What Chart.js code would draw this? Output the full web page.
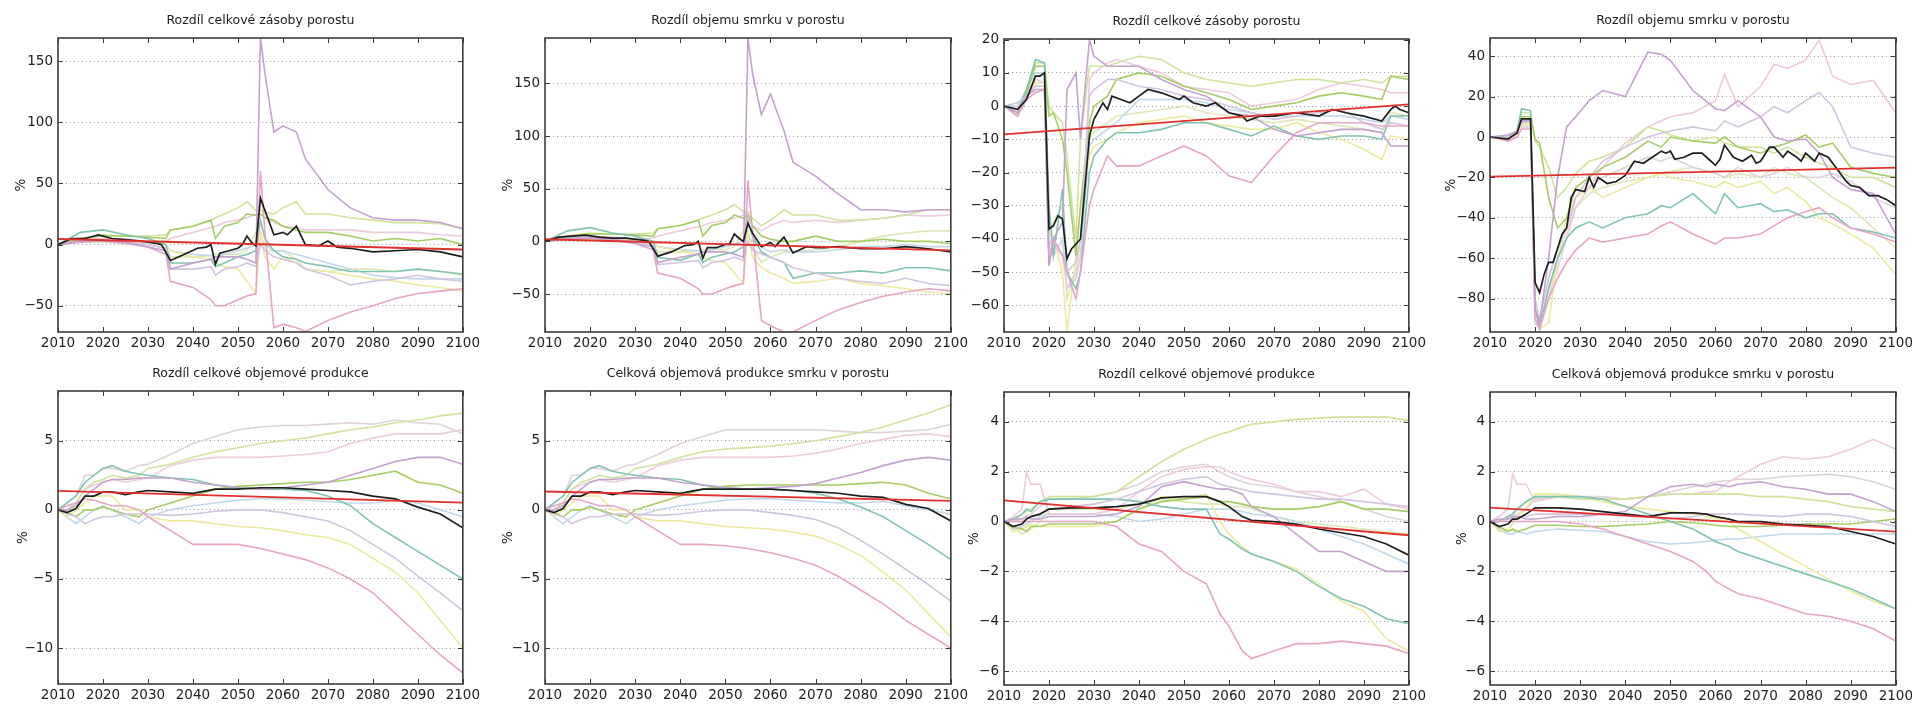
<!DOCTYPE html>
<html>
<head>
<meta charset="utf-8">
<script src="https://cdn.jsdelivr.net/npm/chart.js@4"></script>
<style>
  html, body { margin: 0; padding: 0; background: #fff; overflow: hidden; }
  .panel { position: absolute; }
</style>
</head>
<body>
<script>
// ---- data: years per panel ----
const years12 = [2010, 2015, 2020, 2025, 2030, 2034, 2035, 2040, 2044, 2045, 2047, 2050, 2052, 2054, 2055, 2056, 2058, 2060, 2063, 2065, 2070, 2075, 2080, 2085, 2090, 2095, 2100];
const blackYears12 = [2010, 2013, 2016, 2019, 2022, 2025, 2028, 2032, 2033, 2035, 2038, 2041, 2043, 2044, 2045, 2046, 2048, 2050, 2051, 2052, 2053, 2054, 2055, 2056, 2058, 2060, 2061, 2063, 2065, 2068, 2070, 2072, 2075, 2080, 2085, 2090, 2095, 2100];
const years3 = [2010, 2013, 2015, 2017, 2019, 2020, 2021, 2023, 2024, 2026, 2027, 2029, 2030, 2033, 2035, 2040, 2045, 2050, 2055, 2060, 2065, 2070, 2075, 2080, 2085, 2090, 2094, 2096, 2100];
const blackYears3 = [2010, 2013, 2015, 2017, 2018, 2019, 2020, 2021, 2022, 2023, 2024, 2025, 2027, 2029, 2030, 2032, 2033, 2034, 2036, 2038, 2040, 2042, 2045, 2049, 2050, 2052, 2055, 2057, 2060, 2063, 2064, 2067, 2070, 2075, 2080, 2083, 2086, 2090, 2094, 2096, 2097, 2098, 2100];
const years4 = [2010, 2014, 2016, 2017, 2019, 2020, 2021, 2023, 2025, 2027, 2029, 2032, 2035, 2040, 2045, 2048, 2050, 2055, 2060, 2062, 2065, 2070, 2073, 2076, 2080, 2083, 2086, 2090, 2095, 2100];
const blackYears4 = [2010, 2014, 2016, 2017, 2019, 2020, 2021, 2022, 2023, 2024, 2025, 2026, 2027, 2028, 2029, 2031, 2032, 2033, 2034, 2036, 2038, 2040, 2042, 2044, 2046, 2048, 2049, 2050, 2051, 2053, 2055, 2057, 2059, 2060, 2061, 2062, 2064, 2066, 2068, 2069, 2070, 2072, 2073, 2075, 2076, 2078, 2079, 2080, 2082, 2083, 2085, 2087, 2089, 2090, 2092, 2094, 2096, 2098, 2100];
const years56 = [2010, 2012, 2014, 2016, 2018, 2020, 2022, 2025, 2028, 2030, 2035, 2040, 2045, 2050, 2055, 2060, 2065, 2070, 2075, 2080, 2085, 2090, 2095, 2100];
const years78 = [2010, 2012, 2014, 2015, 2016, 2018, 2020, 2025, 2030, 2035, 2040, 2045, 2050, 2055, 2058, 2060, 2063, 2065, 2070, 2075, 2080, 2085, 2090, 2095, 2100];

// ---- panel 1: Rozdíl celkové zásoby porostu ----
const p1Purple = [0, 3, 3, 2, -2, -5, -20, -15, -12, -10, -10, -10, -12, -15, 169, 140, 92, 97, 92, 70, 45, 30, 22, 20, 20, 18, 13];
const p1Pink = [0, 2, 3, 1, -2, -8, -30, -35, -45, -50, -50, -45, -42, -40, 60, 10, -68, -65, -68, -71, -62, -55, -50, -44, -40, -38, -36];
const p1Lavender = [0, 3, 4, 2, 0, -3, -20, -20, -18, -25, -20, -18, -15, -18, 0, -5, -10, -12, -15, -20, -25, -33, -30, -28, -25, -28, -30];
const p1Teal = [0, 10, 12, 8, 5, 0, -15, -15, -12, -18, -15, -10, -8, -5, 20, 5, -5, -10, -12, -15, -18, -22, -22, -22, -20, -22, -24];
const p1Green = [0, 5, 7, 7, 6, 5, 12, 15, 20, 5, 15, 18, 25, 24, 25, 22, 20, 15, 12, 10, 10, 7, 3, 5, 3, 5, 0];
const p1LtGreen = [0, 5, 8, 7, 7, 8, 12, 15, 20, 22, 25, 30, 35, 28, 28, 26, 25, 30, 35, 25, 25, 22, 20, 18, 18, 17, 13];
const p1LtPink = [0, 4, 5, 4, 2, 3, 5, 10, 14, 15, 18, 20, 22, 25, 25, 22, 18, 15, 14, 12, 12, 12, 10, 10, 10, 8, 7];
const p1Yellow = [0, 3, 3, 2, 2, 0, -5, -10, -12, -15, -18, -20, -30, -40, 10, -10, -20, -10, -15, -20, -22, -25, -28, -30, -33, -35, -38];
const p1LtBlue = [0, 4, 4, 3, 2, 0, -5, -8, -9, -10, -8, -5, -3, 0, 5, 0, -5, -5, -8, -10, -15, -20, -25, -27, -28, -28, -28];
const p1Pale = [0, 2, 2, 1, 0, -3, -10, -10, -9, -8, -8, -8, -5, 10, 10, -5, -5, -5, -12, -20, -22, -20, -20, -22, -20, -22, -25];
const p1Black = [0, 5, 5, 8, 5, 4, 3, 1, 0, -13, -8, -3, -2, 0, -16, -7, -5, -3, 0, 7, 2, -1, 38, 28, 8, 10, 8, 15, 0, -1, 3, -2, -3, -6, -5, -4, -6, -10];
const p1Trend = [4.6, -4];

// ---- panel 2: Rozdíl objemu smrku v porostu ----
const p2Purple = [0, 3, 3, 2, -2, -5, -20, -15, -12, -10, -10, -10, -12, -15, 193, 160, 120, 140, 105, 75, 62, 45, 30, 30, 28, 30, 30];
const p2Pink = [0, 2, 3, 1, -2, -8, -30, -35, -45, -50, -50, -45, -42, -40, 58, 10, -75, -80, -86, -86, -75, -65, -58, -52, -48, -45, -47];
const p2Lavender = [0, 3, 4, 2, 0, -3, -22, -20, -18, -25, -20, -18, -15, -18, 0, -8, -12, -15, -20, -25, -30, -35, -38, -40, -35, -40, -42];
const p2Teal = [0, 10, 13, 8, 5, 0, -15, -18, -12, -20, -15, -12, -10, -5, 20, 5, -10, -15, -20, -35, -30, -30, -28, -30, -25, -25, -28];
const p2Green = [0, 5, 7, 7, 6, 5, 12, 15, 20, 5, 15, 18, 25, 22, 25, 15, 5, 2, 0, 0, 5, 0, 0, 2, 0, 0, -2];
const p2LtGreen = [0, 5, 8, 7, 7, 8, 12, 15, 20, 22, 25, 30, 35, 28, 28, 22, 15, 20, 30, 25, 25, 20, 20, 22, 25, 30, 30];
const p2LtPink = [0, 4, 5, 4, 2, 3, 5, 10, 14, 15, 18, 20, 22, 25, 25, 15, 10, 15, 20, 18, 20, 18, 20, 22, 25, 24, 25];
const p2Yellow = [0, 3, 3, 2, 2, 0, -5, -10, -12, -15, -18, -20, -30, -40, 10, -15, -25, -30, -35, -40, -38, -35, -40, -42, -45, -48, -50];
const p2LtBlue = [0, 4, 4, 3, 2, 0, -5, -8, -9, -10, -8, -5, -3, 0, 5, 0, -5, -10, -8, -10, -10, -8, -5, -5, -3, -5, -5];
const p2Pale = [0, 2, 2, 1, 0, -3, -10, -10, -9, -8, -8, -8, -5, 10, 10, -5, -20, -15, -10, -10, -8, -5, 0, 5, 8, 10, 10];
const p2Black = [0, 4, 5, 6, 4, 3, 3, 1, 0, -14, -10, -4, -3, 0, -16, -6, -6, -3, -2, 7, 3, 0, 17, 8, -5, -1, -5, 4, -11, -5, -6, -6, -5, -7, -7, -5, -7, -10];
const p2Trend = [2, -8.5];

// ---- panel 3: Rozdíl celkové zásoby porostu ----
const p3Teal = [0, -2, 5, 14, 13, -30, -45, -25, -50, -55, -50, -20, -15, -10, -8, -8, -7, -5, -5, -7, -9, -6, -9, -10, -9, -9, -10, -3, -3];
const p3Green = [0, -3, 4, 12, 12, -3, -2, -10, -20, -45, -30, -5, 0, 3, 8, 10, 9, 6, 4, 2, -1, 0, 1, 3, 4, 3, 2, 9, 8];
const p3LtGreen = [0, -2, 5, 13, 13, 0, -2, -5, -15, -40, -10, 12, 12, 12, 13, 15, 14, 10, 8, 7, 6, 7, 8, 8, 7, 8, 7, 9, 9];
const p3Purple = [0, -2, 3, 5, 5, -48, -40, -35, 5, 10, -10, 20, 15, 12, 12, 12, 8, 5, 3, -2, -3, -7, -9, -8, -7, -7, -8, -12, -12];
const p3Pink = [0, -3, 2, 4, 5, -48, -40, -45, -50, -58, -50, -30, -25, -15, -18, -18, -15, -12, -15, -21, -23, -15, -8, -5, -5, -5, -6, -6, -6];
const p3Yellow = [0, -3, 3, 7, 7, -35, -40, -50, -68, -45, -30, -15, -12, -10, -8, -5, -4, -3, -5, -6, -7, -7, -5, -8, -10, -13, -16, -9, -10];
const p3LtPink = [0, -1, 4, 8, 7, -40, -42, -45, -55, -50, -45, 8, 10, 13, 14, 12, 10, 6, 5, 4, 0, 1, 2, 5, 7, 6, 5, 4, 4];
const p3Lavender = [0, 1, 3, 6, 6, -42, -40, -45, -50, -47, -40, 3, 5, 8, 8, 6, 5, 3, 2, 0, -2, -4, -3, -2, -1, -5, -7, -5, -6];
const p3LtBlue = [0, 0, 5, 10, 10, -42, -45, -40, -55, -52, -45, -12, -10, -7, -5, 2, 2, 2, 1, -1, -2, -3, -3, -3, -3, -4, -5, -3, -4];
const p3Pale = [0, -1, 3, 9, 10, -40, -35, -30, -58, -50, -40, -10, -8, -5, -3, -2, -1, 0, -2, -3, -4, -5, -4, -5, -6, -7, -8, -2, -3];
const p3Black = [0, -1, 2, 9, 9, 10, -37, -36, -33, -34, -46, -43, -40, -9, -4, 1, -1, 3, 2, 1, 3, 5, 4, 2, 3, 1, 0, 1, -2, -3, -4.5, -3, -3, -2, -3, -1, -2, -3, -4.5, -1, 0, -1, -2];
const p3Trend = [-8.5, 0.5];

// ---- panel 4: Rozdíl objemu smrku v porostu ----
const p4Purple = [0, 1, 3, 8, 8, -85, -92, -60, -20, 5, 10, 18, 23, 20, 42, 41, 38, 23, 14, 13, 18, 10, 0, -2, -1, -8, -20, -26, -28, -48];
const p4LtPink = [0, 0, 2, 8, 9, -85, -92, -75, -60, -50, -35, -25, -15, -3, 5, 8, 10, 12, 18, 31, 15, 25, 36, 34, 38, 48, 30, 26, 28, 12];
const p4Lavender = [0, 0, 2, 7, 8, -80, -90, -70, -55, -45, -30, -20, -12, -5, 0, 2, 3, 5, 3, 8, 5, 10, 15, 12, 18, 22, 15, -5, -8, -10];
const p4Green = [0, 0, 2, 10, 10, -1, -3, -30, -45, -40, -25, -20, -15, -10, -2, -5, 0, -2, -3, 0, -5, -8, -5, -3, 1, -5, -3, -15, -18, -20];
const p4LtGreen = [0, 0, 3, 12, 12, -2, -5, -15, -30, -25, -18, -12, -10, -5, 5, 3, 1, -2, 0, -3, -5, -5, -8, -5, -10, -13, -15, -20, -20, -25];
const p4Pink2 = [0, -1, 1, 5, 5, -92, -95, -80, -65, -50, -30, -25, -20, -15, -10, -12, -10, -15, -18, -20, -15, -20, -18, -15, -20, -20, -18, -22, -30, -35];
const p4Yellow = [0, -2, 1, 6, 6, -90, -95, -92, -60, -40, -30, -25, -30, -25, -20, -18, -20, -22, -25, -22, -25, -22, -28, -25, -32, -40, -43, -48, -55, -68];
const p4Pale = [0, -1, 2, 7, 7, -85, -90, -80, -60, -45, -35, -28, -25, -22, -20, -18, -17, -15, -18, -20, -18, -20, -15, -18, -20, -25, -30, -35, -45, -55];
const p4Teal = [0, 0, 3, 14, 13, -85, -95, -75, -60, -50, -45, -42, -45, -40, -38, -34, -35, -28, -38, -28, -35, -33, -37, -36, -40, -38, -38, -45, -47, -50];
const p4Pink = [0, -2, 0, 4, 4, -90, -95, -80, -70, -62, -56, -50, -52, -50, -48, -44, -42, -48, -53, -50, -50, -48, -44, -40, -37, -35, -40, -45, -48, -52];
const p4Black = [0, -1, 2, 9, 9, -72, -77, -68, -62, -62, -55, -48, -45, -30, -26, -27, -20, -25, -20, -23, -22, -19, -12, -13, -10, -7, -8, -7, -11, -10, -8, -8, -12, -14, -11, -4, -10, -12, -9, -13, -12, -5, -5, -10, -7, -10, -12, -8, -12, -8, -10, -16, -22, -24, -25, -29, -29, -31, -34];
const p4Trend = [-19.6, -15.2];

// ---- panel 5: Rozdíl celkové objemové produkce ----
const p5LtGreen = [0, 0, 0.5, 1.5, 2, 2.2, 2.5, 2.3, 2.5, 3, 3.3, 3.8, 4.2, 4.5, 4.8, 5, 5.2, 5.5, 5.8, 6, 6.3, 6.5, 6.8, 7];
const p5Gray = [0, 0.5, 1, 2.5, 2.5, 3, 3, 2.8, 3.2, 3.3, 4, 4.8, 5.3, 5.8, 6, 6.1, 6.1, 6.2, 6.3, 6.2, 6.5, 6.3, 6.2, 5.5];
const p5LtPink = [0, 0, 0.5, 1.5, 1.8, 2, 2.2, 2, 2.2, 2.3, 3.2, 3.6, 3.8, 3.8, 3.8, 3.9, 4, 4.2, 4.8, 5.2, 5.5, 5.5, 5.5, 5.8];
const p5Purple = [0, 0, 0.3, 1, 1.5, 2, 2.2, 2.2, 2.3, 2.3, 2.3, 2.0, 1.8, 1.6, 1.5, 1.6, 1.8, 2.0, 2.5, 3.0, 3.5, 3.8, 3.8, 3.3];
const p5Green = [0, -0.2, -0.5, 0, 0, 0.2, 0, -0.3, -0.5, 0, 0.5, 1, 1.5, 1.7, 1.8, 1.9, 2, 2, 2.2, 2.5, 2.8, 2, 1.8, 1.2];
const p5Teal = [0, 0.5, 1, 2, 2.5, 3, 3.2, 2.8, 2.6, 2.5, 2.3, 2.2, 1.8, 1.6, 1.5, 1.5, 1.4, 1.0, 0.3, -1, -2, -3, -4, -5];
const p5Purple2 = [0, -0.3, -0.5, -1, -0.7, -0.5, -0.5, -0.3, -0.3, -0.3, -0.4, -0.3, -0.1, 0, 0, -0.2, -0.5, -0.8, -1.5, -2.5, -3.5, -4.8, -6, -7.3];
const p5Yellow = [0, -0.5, 0, 0.5, 1, 1, 1, 0, 0, -0.5, -0.8, -0.8, -1, -1.2, -1.3, -1.5, -1.8, -2, -2.5, -3.5, -4.5, -6, -8, -10];
const p5Pink = [0, 0.3, 0.5, 0.8, 0.7, 0.5, 0.3, 0.3, 0, -0.5, -1.5, -2.5, -2.5, -2.5, -2.8, -3.2, -3.6, -4.2, -5, -6, -7.5, -9, -10.5, -11.8];
const p5LtBlue = [0, -0.5, -1, -0.5, 0, 0.3, 0, -0.5, -1, -0.5, 0, 0.3, 0.5, 0.7, 0.8, 0.8, 0.7, 0.6, 0.5, 0.5, 0.7, 0.5, 0, -0.5];
const p5Black = [0, -0.2, 0.1, 1.0, 1.0, 1.3, 1.3, 1.1, 1.3, 1.4, 1.3, 1.2, 1.5, 1.5, 1.6, 1.6, 1.5, 1.4, 1.3, 1.0, 0.8, 0.2, -0.3, -1.3];
const p5Trend = [1.37, 0.53];

// ---- panel 6: Celková objemová produkce smrku v porostu ----
const p6LtGreen = [0, 0, 0.5, 1.5, 2, 2.2, 2.5, 2.3, 2.5, 3, 3.3, 3.8, 4.2, 4.4, 4.5, 4.6, 4.8, 5, 5.3, 5.6, 6.0, 6.5, 7.0, 7.6];
const p6Gray = [0, 0.5, 1, 2.5, 2.5, 3, 3, 2.8, 3.2, 3.3, 4, 4.8, 5.3, 5.8, 5.8, 5.8, 5.8, 5.8, 5.7, 5.6, 5.6, 5.7, 5.8, 6.2];
const p6LtPink = [0, 0, 0.5, 1.5, 1.8, 2, 2.2, 2, 2.2, 2.3, 3.2, 3.6, 3.8, 3.8, 3.8, 3.8, 3.9, 4.1, 4.4, 4.8, 5.1, 5.4, 5.5, 5.3];
const p6Purple = [0, 0, 0.3, 1, 1.5, 2, 2.2, 2.2, 2.3, 2.3, 2.3, 2.0, 1.8, 1.6, 1.5, 1.6, 1.7, 1.9, 2.3, 2.7, 3.2, 3.6, 3.8, 3.6];
const p6Green = [0, -0.2, -0.5, 0, 0, 0.2, 0, -0.3, -0.5, 0, 0.5, 1, 1.5, 1.7, 1.8, 1.8, 1.8, 1.8, 1.8, 1.9, 2.0, 1.8, 1.2, 0.8];
const p6Teal = [0, 0.5, 1, 2, 2.5, 3, 3.2, 2.8, 2.6, 2.5, 2.3, 2.2, 1.8, 1.6, 1.5, 1.5, 1.4, 1.2, 0.8, 0.2, -0.5, -1.5, -2.5, -3.6];
const p6Purple2 = [0, -0.3, -0.5, -1, -0.7, -0.5, -0.5, -0.3, -0.3, -0.3, -0.4, -0.3, -0.1, 0, 0, -0.2, -0.4, -0.7, -1.3, -2.2, -3.2, -4.3, -5.4, -6.6];
const p6Yellow = [0, -0.5, 0, 0.5, 1, 1, 1, 0, 0, -0.5, -0.8, -0.8, -1, -1.2, -1.3, -1.4, -1.6, -1.9, -2.5, -3.3, -4.5, -5.8, -7.5, -9.2];
const p6Pink = [0, 0.3, 0.5, 0.8, 0.7, 0.5, 0.3, 0.3, 0, -0.5, -1.5, -2.5, -2.5, -2.6, -2.8, -3.1, -3.5, -4.0, -4.8, -5.8, -6.8, -8.0, -9.0, -10.0];
const p6LtBlue = [0, -0.5, -1, -0.5, 0, 0.3, 0, -0.5, -1, -0.5, 0, 0.3, 0.5, 0.7, 0.8, 0.8, 0.7, 0.6, 0.5, 0.5, 0.6, 0.3, 0, -0.3];
const p6Black = [0, -0.2, 0.1, 1.0, 1.0, 1.3, 1.3, 1.1, 1.3, 1.4, 1.3, 1.2, 1.5, 1.5, 1.5, 1.5, 1.4, 1.3, 1.2, 1.0, 0.9, 0.4, 0.1, -0.8];
const p6Trend = [1.33, 0.65];

// ---- panel 7: Rozdíl celkové objemové produkce ----
const p7LtGreen = [0, 0, 0.3, 0.4, 0.5, 0.8, 1.0, 1.0, 1.0, 1.2, 1.8, 2.4, 2.9, 3.3, 3.5, 3.6, 3.8, 3.9, 4.0, 4.1, 4.15, 4.2, 4.2, 4.2, 4.05];
const p7LtPink = [0, 0.2, 0.5, 2.0, 1.5, 1.5, 0.3, 0.3, 0.3, 0.5, 1.2, 1.8, 2.1, 2.2, 2.2, 2.0, 1.8, 1.7, 1.5, 1.2, 1.2, 1.0, 1.3, 0.7, 0.5];
const p7Gray = [0, 0, 0.1, 0.2, 0.3, 0.6, 0.9, 0.9, 1.0, 1.2, 1.5, 2.0, 2.2, 2.3, 2.0, 1.8, 1.6, 1.5, 1.4, 1.2, 1.0, 0.8, 0.5, 0.2, 0.0];
const p7Purple = [0, 0.1, 0.1, 0.2, 0.1, 0.1, 0.2, 0.2, 0.2, 0.3, 0.6, 1.4, 1.6, 1.4, 1.3, 1.3, 1.1, 0.6, 0.2, -0.5, -1.2, -1.2, -1.6, -2.0, -2.0];
const p7Lavender = [0, 0, 0, 0.1, 0.2, 0.3, 0.5, 0.6, 0.7, 0.9, 1.2, 1.5, 1.7, 1.8, 1.5, 1.4, 1.3, 1.2, 1.1, 1.0, 0.9, 0.9, 0.8, 0.7, 0.6];
const p7Green = [0, -0.2, -0.3, -0.4, -0.2, -0.2, -0.1, -0.1, -0.1, 0.0, 0.5, 0.8, 0.9, 1.0, 0.8, 0.8, 0.7, 0.6, 0.5, 0.5, 0.6, 0.8, 0.5, 0.5, 0.4];
const p7Teal = [0, 0.1, 0.3, 0.5, 0.4, 0.8, 0.9, 0.9, 0.9, 0.9, 0.8, 0.6, 0.5, 0.5, -0.5, -0.7, -1.1, -1.3, -1.6, -2.0, -2.6, -3.1, -3.4, -3.9, -4.1];
const p7Yellow = [0, -0.4, -0.3, -0.2, -0.1, -0.2, -0.2, -0.2, -0.2, 0.0, 0.5, 1.0, 0.9, 1.1, 0.0, -0.5, -1.0, -1.3, -1.6, -1.9, -2.5, -3.2, -3.6, -4.7, -5.2];
const p7Pink = [0, 0, 0, 0, 0, 0, 0, 0, 0, -0.2, -0.9, -1.2, -2.0, -2.5, -3.7, -4.2, -5.2, -5.5, -5.2, -4.9, -4.9, -4.8, -4.9, -5.0, -5.3];
const p7LtBlue = [0, -0.3, -0.2, -0.1, 0.0, 0.2, 0.3, 0.3, 0.3, 0.2, 0.0, 0.1, 0.3, 0.5, 0.5, 0.5, 0.4, 0.3, 0.2, 0.0, -0.3, -0.6, -0.9, -1.3, -1.7];
const p7Pale = [0, -0.2, -0.5, -0.4, -0.3, 0.0, 0.5, 0.5, 0.5, 0.5, 0.7, 0.9, 0.8, 0.7, 0.7, 0.6, 0.6, 0.5, 0.2, 0.0, -0.1, -0.2, -0.3, -0.4, -0.5];
const p7Black = [0, -0.2, -0.1, 0.1, 0.2, 0.3, 0.5, 0.55, 0.55, 0.6, 0.7, 0.95, 1.0, 1.0, 0.8, 0.6, 0.2, 0.05, 0.0, -0.1, -0.3, -0.45, -0.6, -0.9, -1.35];
const p7Trend = [0.85, -0.55];

// ---- panel 8: Celková objemová produkce smrku v porostu ----
const p8LtPink = [0, 0.2, 0.5, 1.9, 1.5, 1.5, 0.8, 1.0, 1.0, 0.9, 0.9, 1.0, 1.1, 1.1, 1.2, 1.2, 1.6, 1.8, 2.3, 2.6, 2.5, 2.6, 2.9, 3.3, 2.9];
const p8Gray = [0, 0, 0.1, 0.2, 0.3, 0.5, 0.9, 1.0, 1.0, 1.0, 0.9, 1.0, 1.2, 1.4, 1.5, 1.6, 1.65, 1.7, 1.7, 1.8, 1.85, 1.9, 1.8, 1.6, 1.3];
const p8Purple = [0, 0.1, 0.1, 0.2, 0.2, 0.1, 0.1, 0.2, 0.2, 0.3, 0.4, 1.0, 1.4, 1.5, 1.4, 1.5, 1.4, 1.5, 1.6, 1.4, 1.3, 1.1, 1.1, 0.8, 0.4];
const p8LtGreen = [0, 0, 0.2, 0.3, 0.5, 0.8, 1.0, 1.0, 0.9, 0.9, 0.9, 1.0, 1.1, 1.1, 1.1, 1.1, 1.1, 1.1, 1.0, 1.0, 0.9, 0.8, 0.6, 0.5, 0.4];
const p8Yellow = [0, -0.4, -0.3, -0.1, 0.2, 0.5, 1.1, 1.1, 1.0, 0.8, 0.6, 0.5, 0.4, 0.3, 0.2, 0.1, 0.0, -0.3, -0.8, -1.3, -1.8, -2.3, -2.8, -3.2, -3.5];
const p8Teal = [0, 0, 0.2, 0.3, 0.5, 0.8, 1.0, 1.0, 1.0, 0.9, 0.6, 0.3, 0.0, -0.3, -0.6, -0.8, -1.0, -1.2, -1.5, -1.8, -2.1, -2.4, -2.7, -3.1, -3.5];
const p8Green = [0, -0.2, -0.4, -0.3, -0.4, -0.3, -0.15, -0.15, -0.2, -0.2, -0.15, -0.1, 0.0, -0.05, -0.1, -0.15, -0.2, -0.2, -0.2, -0.15, -0.1, -0.1, -0.1, 0.0, 0.1];
const p8Pink = [0, 0, 0, 0, 0, 0, 0, 0, -0.1, -0.3, -0.6, -0.9, -1.2, -1.6, -2.0, -2.4, -2.7, -2.9, -3.1, -3.4, -3.7, -3.8, -4.0, -4.3, -4.8];
const p8LtBlue = [0, -0.3, -0.5, -0.5, -0.4, -0.5, -0.4, -0.3, -0.35, -0.4, -0.6, -0.8, -0.9, -0.85, -0.8, -0.75, -0.7, -0.7, -0.6, -0.5, -0.5, -0.5, -0.5, -0.5, -0.5];
const p8Lavender = [0, 0, 0.1, 0.1, 0.2, 0.2, 0.3, 0.3, 0.3, 0.3, 0.3, 0.2, 0.1, 0.2, 0.3, 0.3, 0.3, 0.3, 0.25, 0.2, 0.3, 0.3, 0.2, 0.0, -0.2];
const p8Black = [0, -0.2, -0.1, 0.1, 0.1, 0.3, 0.55, 0.55, 0.5, 0.4, 0.3, 0.2, 0.35, 0.35, 0.3, 0.2, 0.1, 0.0, 0.0, -0.1, -0.15, -0.2, -0.4, -0.6, -0.9];
const p8Trend = [0.56, -0.4];

// ---- styles ----
const PURPLE = '#c4a1cf';
const PINK = '#e8a4c5';
const LAVENDER = '#d3c4e0';
const TEAL = '#7fc5b1';
const GREEN = '#a5cd63';
const LTGREEN = '#d0e39d';
const LTPINK = '#eecbdc';
const YELLOW = '#ecea9e';
const LTBLUE = '#c0d8e9';
const PALE = '#dde8b6';
const GRAY = '#dfd2db';
const FONT = 'DejaVu Sans';

const panels = [
  { title: 'Rozdíl celkové zásoby porostu', box: [58, 38, 463, 332], yMin: -71.4, yMax: 168.8, step: 50, pct: 13,
    years: years12, blackYears: blackYears12, black: p1Black, trend: p1Trend,
    series: [[p1Purple, PURPLE], [p1Pink, PINK], [p1Lavender, LAVENDER], [p1Teal, TEAL], [p1Green, GREEN], [p1LtGreen, LTGREEN], [p1LtPink, LTPINK], [p1Yellow, YELLOW], [p1LtBlue, LTBLUE], [p1Pale, PALE]] },
  { title: 'Rozdíl objemu smrku v porostu', box: [545, 38, 951, 332], yMin: -86, yMax: 193, step: 50, pct: 13,
    years: years12, blackYears: blackYears12, black: p2Black, trend: p2Trend,
    series: [[p2Purple, PURPLE], [p2Pink, PINK], [p2Lavender, LAVENDER], [p2Teal, TEAL], [p2Green, GREEN], [p2LtGreen, LTGREEN], [p2LtPink, LTPINK], [p2Yellow, YELLOW], [p2LtBlue, LTBLUE], [p2Pale, PALE]] },
  { title: 'Rozdíl celkové zásoby porostu', box: [1004, 39, 1409, 332], yMin: -68, yMax: 20.2, step: 10, pct: null,
    years: years3, blackYears: blackYears3, black: p3Black, trend: p3Trend,
    series: [[p3Purple, PURPLE], [p3Pink, PINK], [p3Lavender, LAVENDER], [p3Teal, TEAL], [p3Green, GREEN], [p3LtGreen, LTGREEN], [p3LtPink, LTPINK], [p3Yellow, YELLOW], [p3LtBlue, LTBLUE], [p3Pale, PALE]] },
  { title: 'Rozdíl objemu smrku v porostu', box: [1490, 38, 1896, 332], yMin: -96.5, yMax: 49, step: 20, pct: 11,
    years: years4, blackYears: blackYears4, black: p4Black, trend: p4Trend,
    series: [[p4Purple, PURPLE], [p4Pink, PINK], [p4Lavender, LAVENDER], [p4Teal, TEAL], [p4Green, GREEN], [p4LtGreen, LTGREEN], [p4LtPink, LTPINK], [p4Yellow, YELLOW], [p4Pink2, GRAY], [p4Pale, PALE]] },
  { title: 'Rozdíl celkové objemové produkce', box: [58, 391, 463, 684], yMin: -12.6, yMax: 8.6, step: 5, pct: 15,
    years: years56, blackYears: years56, black: p5Black, trend: p5Trend,
    series: [[p5Purple, PURPLE], [p5Pink, PINK], [p5Purple2, LAVENDER], [p5Teal, TEAL], [p5Green, GREEN], [p5LtGreen, LTGREEN], [p5LtPink, LTPINK], [p5Yellow, YELLOW], [p5LtBlue, LTBLUE], [p5Gray, GRAY]] },
  { title: 'Celková objemová produkce smrku v porostu', box: [545, 391, 951, 684], yMin: -12.6, yMax: 8.6, step: 5, pct: 13,
    years: years56, blackYears: years56, black: p6Black, trend: p6Trend,
    series: [[p6Purple, PURPLE], [p6Pink, PINK], [p6Purple2, LAVENDER], [p6Teal, TEAL], [p6Green, GREEN], [p6LtGreen, LTGREEN], [p6LtPink, LTPINK], [p6Yellow, YELLOW], [p6LtBlue, LTBLUE], [p6Gray, GRAY]] },
  { title: 'Rozdíl celkové objemové produkce', box: [1004, 392, 1409, 685], yMin: -6.56, yMax: 5.2, step: 2, pct: 20,
    years: years78, blackYears: years78, black: p7Black, trend: p7Trend,
    series: [[p7Purple, PURPLE], [p7Pink, PINK], [p7Lavender, LAVENDER], [p7Teal, TEAL], [p7Green, GREEN], [p7LtGreen, LTGREEN], [p7LtPink, LTPINK], [p7Yellow, YELLOW], [p7LtBlue, LTBLUE], [p7Pale, PALE], [p7Gray, GRAY]] },
  { title: 'Celková objemová produkce smrku v porostu', box: [1490, 392, 1896, 685], yMin: -6.56, yMax: 5.2, step: 2, pct: 22,
    years: years78, blackYears: years78, black: p8Black, trend: p8Trend,
    series: [[p8Purple, PURPLE], [p8Pink, PINK], [p8Lavender, LAVENDER], [p8Teal, TEAL], [p8Green, GREEN], [p8LtGreen, LTGREEN], [p8LtPink, LTPINK], [p8Yellow, YELLOW], [p8LtBlue, LTBLUE], [p8Gray, GRAY]] },
];

// frame + inward tick marks, matplotlib style
const frameTicks = {
  id: 'frameTicks',
  afterDraw(chart) {
    const { ctx, chartArea: { left, top, right, bottom }, scales: { x, y } } = chart;
    ctx.save();
    ctx.strokeStyle = '#3c3c3c';
    ctx.lineWidth = 1;
    ctx.beginPath();
    x.ticks.forEach((t) => {
      const px = Math.round(x.getPixelForValue(t.value)) + 0.5;
      ctx.moveTo(px, bottom); ctx.lineTo(px, bottom - 5);
      ctx.moveTo(px, top); ctx.lineTo(px, top + 5);
    });
    y.ticks.forEach((t) => {
      const py = Math.round(y.getPixelForValue(t.value)) + 0.5;
      ctx.moveTo(left, py); ctx.lineTo(left + 5, py);
      ctx.moveTo(right, py); ctx.lineTo(right - 5, py);
    });
    ctx.stroke();
    ctx.lineWidth = 1.6;
    ctx.strokeRect(left, top, right - left, bottom - top);
    ctx.restore();
  },
};

const toPoints = (xs, ys) => xs.map((x, i) => ({ x, y: ys[i] }));
const minus = (v) => String(v).replace('-', '\u2212');

panels.forEach((p) => {
  const [l, t, r, b] = p.box;
  const W = r - l + 58 + 20;
  const H = b - t + 31 + 24;
  const div = document.createElement('div');
  div.className = 'panel';
  div.style.left = (l - 58) + 'px';
  div.style.top = (t - 31) + 'px';
  const canvas = document.createElement('canvas');
  canvas.width = W;
  canvas.height = H;
  canvas.style.width = W + 'px';
  canvas.style.height = H + 'px';
  div.appendChild(canvas);
  document.body.appendChild(div);

  const datasets = [
    { data: toPoints([2010, 2100], p.trend), borderColor: '#e0312c', borderWidth: 1.8 },
    { data: toPoints(p.blackYears, p.black), borderColor: '#1e1e1e', borderWidth: 1.7 },
    ...p.series.map(([vals, color]) => ({ data: toPoints(p.years, vals), borderColor: color, borderWidth: 1.6 })),
  ];

  new Chart(canvas, {
    type: 'line',
    data: { datasets },
    options: {
      responsive: false,
      animation: false,
      events: [],
      elements: { point: { radius: 0 }, line: { tension: 0 } },
      layout: { padding: { left: 0, right: 20, top: 0, bottom: 0 } },
      scales: {
        x: {
          type: 'linear',
          min: 2010,
          max: 2100,
          grid: { display: false, drawTicks: false },
          border: { display: false },
          ticks: { stepSize: 10, autoSkip: false, maxRotation: 0, padding: 3, color: '#222', font: { family: FONT, size: 13.5 }, callback: (v) => String(v) },
          afterFit: (s) => { s.height = 24; },
        },
        y: {
          min: p.yMin,
          max: p.yMax,
          grid: { color: '#9c9c9c', lineWidth: 1, drawTicks: false },
          border: { display: false, dash: [1, 3] },
          ticks: { stepSize: p.step, includeBounds: false, padding: 5, color: '#222', font: { family: FONT, size: 13.5 }, callback: minus },
          title: {
            display: p.pct !== null,
            text: '%',
            color: '#222',
            font: { family: FONT, size: 13.5 },
            padding: { top: p.pct || 0, bottom: 0 },
          },
          afterFit: (s) => { s.width = 58; },
        },
      },
      plugins: {
        legend: { display: false },
        tooltip: { enabled: false },
        title: {
          display: true,
          text: p.title,
          fullSize: false,
          color: '#222',
          font: { family: FONT, size: 12.5, weight: 'normal', lineHeight: 1.2 },
          padding: { top: 6, bottom: 10 },
        },
      },
    },
    plugins: [frameTicks],
  });
});
</script>
</body>
</html>
